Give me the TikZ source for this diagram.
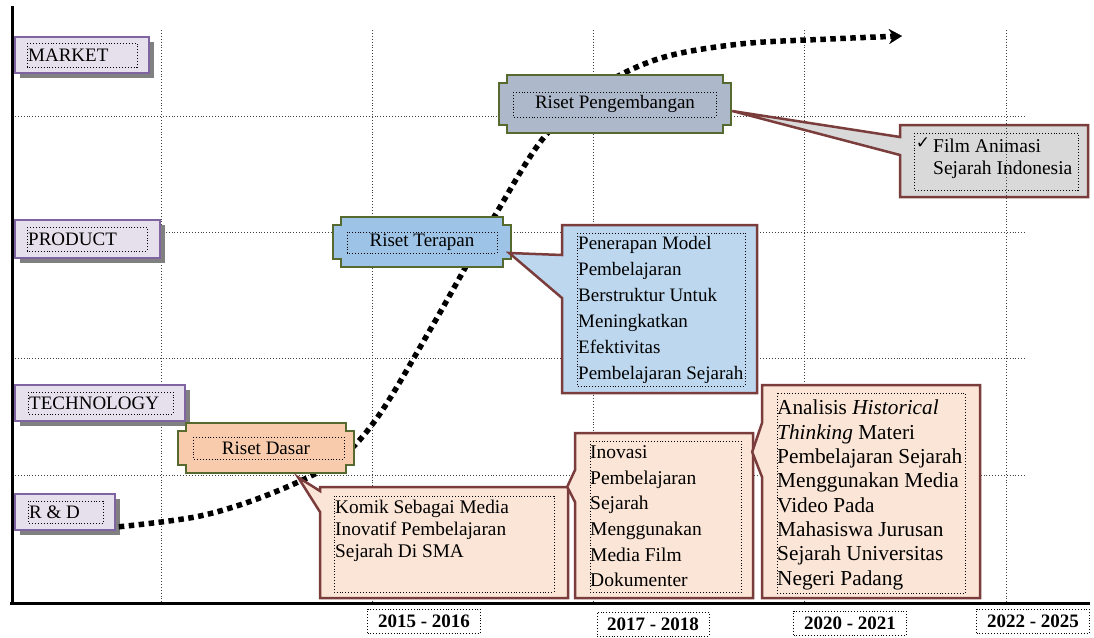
\documentclass[tikz,border=0pt]{standalone}
\usepackage{fontspec}
\setmainfont{Liberation Serif}
\newfontfamily\symfont{DejaVu Sans}
\usetikzlibrary{arrows.meta,calc,shadows}
\definecolor{lav}{HTML}{E6E0EC}
\definecolor{lavb}{HTML}{8064A2}
\definecolor{olivb}{HTML}{56692F}
\definecolor{pgfill}{HTML}{ADB9CA}
\definecolor{tfill}{HTML}{9DC3E6}
\definecolor{dfill}{HTML}{F8CBAD}
\definecolor{callb}{HTML}{7B3C3C}
\definecolor{gfill}{HTML}{D9D9D9}
\definecolor{bfill}{HTML}{BDD7EE}
\definecolor{pfill}{HTML}{FBE5D6}
\newcommand\myplaque[5]{\filldraw[plq, fill=#5] (#1+8,#2) -- (#3-8,#2) -- (#3-8,#2+8) -- (#3,#2+8) -- (#3,#4-8) -- (#3-8,#4-8) -- (#3-8,#4) -- (#1+8,#4) -- (#1+8,#4-8) -- (#1,#4-8) -- (#1,#2+8) -- (#1+8,#2+8) -- cycle;}
\tikzset{
 gridln/.style={dotted, line width=0.9pt, black!75},
 lbl/.style={draw=lavb, fill=lav, line width=1.6pt, inner sep=0pt, drop shadow={shadow xshift=5pt, shadow yshift=-5pt, fill=black!50, opacity=1}},
 innerbox/.style={dotted, line width=0.9pt, black},
 plq/.style={draw=olivb, line width=2.8pt},
 callout/.style={draw=callb, line width=2.5pt, line join=miter},
 txt/.style={inner sep=0pt, anchor=north west, align=left},
 lbltxt/.style={anchor=west, inner sep=0pt},
 yearbox/.style={draw, dotted, line width=0.9pt, font=\fontsize{19}{22}\selectfont\bfseries, minimum height=24pt, inner xsep=6pt},
 scurve/.style={line width=5.5pt, dash pattern=on 5.5pt off 4.5pt, -{Stealth[length=13pt,width=15pt,line width=0.1pt]}},
}
\begin{document}
\begin{tikzpicture}[x=1pt, y={(0pt,-1pt)}, font=\fontsize{19}{26}\selectfont]
\useasboundingbox (0,0) rectangle (1094,637);
\fill[white] (0,0) rectangle (1094,637);
% grid
\foreach \x in {161,372,593,804,1006} \draw[gridln] (\x,30) -- (\x,603);
\foreach \y in {116,232,358,475} \draw[gridln] (12,\y) -- (1025,\y);
% axes
\draw[line width=3pt] (12,6) -- (12,604);
\draw[line width=3pt] (10,603) -- (1090,603);
% left labels
\node[lbl, minimum width=134pt, minimum height=36pt] (market) at (82,55) {};
\draw[innerbox] (27,43) rectangle (137,67);
\node[lbltxt] (marketT) at (28,55.5) {MARKET};
\node[lbl, minimum width=145pt, minimum height=38pt] (product) at (87.5,239) {};
\draw[innerbox] (27,227) rectangle (147,251);
\node[lbltxt] (productT) at (28,239.5) {PRODUCT};
\node[lbl, minimum width=170pt, minimum height=36pt] (tech) at (100,403) {};
\draw[innerbox] (28,392) rectangle (173,414);
\node[lbltxt] (techT) at (29,403.5) {TECHNOLOGY};
\node[lbl, minimum width=100pt, minimum height=36pt] (rd) at (65,512) {};
\draw[innerbox] (28,501) rectangle (103,523);
\node[lbltxt] (rdT) at (29,512.5) {R \& D};
% S-curve
\coordinate (curveend) at (902,36);
\draw[scurve] plot[smooth, tension=0.55] coordinates {($(rd.south east)+(3,-4)$) (200,516) (270,494) (335,462) (377,418) (430,330) (497,212) (545,136) (600,87) (661,58) (740,44) (830,39) (curveend)};
% plaques
\myplaque{499}{75}{731}{133}{pgfill}
\draw[innerbox] (513,92) rectangle (716,117);
\node[minimum width=232pt, minimum height=58pt, inner sep=0pt] (rpeng) at (615,104) {Riset Pengembangan};
\myplaque{333}{217}{511}{267}{tfill}
\draw[innerbox] (347,232) rectangle (497,253);
\node[minimum width=178pt, minimum height=50pt, inner sep=0pt] (rter) at (422,242) {Riset Terapan};
\myplaque{178}{423}{354}{473}{dfill}
\draw[innerbox] (193,437) rectangle (344,459);
\node[minimum width=176pt, minimum height=50pt, inner sep=0pt] (rdas) at (266,448) {Riset Dasar};
% callout: Film
\coordinate (tipF) at ($(rpeng.east)+(1,7)$);
\filldraw[callout, fill=gfill] (900,125) -- (1088,125) -- (1088,197) -- (900,197) -- (900,155) -- (tipF) -- (900,137) -- cycle;
\draw[innerbox] (914,133) rectangle (1078,190);
\draw[gridln] (1006,125) -- (1006,197);
\node[inner sep=0pt, font=\fontsize{17}{17}\selectfont] (chk) at (923,143) {\symfont ✓};
\node[txt, font=\fontsize{19.5}{22}\selectfont] (filmT) at (933,138.5) {Film Animasi\\Sejarah Indonesia};
% callout: Penerapan
\coordinate (tipT) at ($(rter.east)+(-2,11)$);
\filldraw[callout, fill=bfill] (562,225) -- (757,225) -- (757,393) -- (562,393) -- (562,298) -- (tipT) -- (562,255) -- cycle;
\draw[innerbox] (577,233) rectangle (745,386);
\node[txt, font=\fontsize{19}{26}\selectfont] (terT) at (578,236.5) {Penerapan Model\\Pembelajaran\\Berstruktur Untuk\\Meningkatkan\\Efektivitas\\Pembelajaran Sejarah};
% callout: Komik
\coordinate (tipK) at ($(rdas.south)+(32,4)$);
\filldraw[callout, fill=pfill] (320,487) -- (568,487) -- (568,598) -- (320,598) -- (320,512) -- (tipK) -- (320,491) -- cycle;
\node[minimum width=248pt, minimum height=111pt, inner sep=0pt] (komikbox) at (444,542.5) {};
\draw[innerbox] (334,496) rectangle (554,592);
\node[txt, font=\fontsize{19.3}{22}\selectfont] (komikT) at (335,499.5) {Komik Sebagai Media\\Inovatif Pembelajaran\\Sejarah Di SMA};
% callout: Inovasi
\coordinate (tipI) at ($(komikbox.north east)+(-1,0)$);
\filldraw[callout, fill=pfill] (575,433) -- (753,433) -- (753,598) -- (575,598) -- (575,502) -- (tipI) -- (575,470) -- cycle;
\node[minimum width=178pt, minimum height=165pt, inner sep=0pt] (inovbox) at (664,515.5) {};
\draw[innerbox] (590,441) rectangle (741,592);
\node[txt, font=\fontsize{19.5}{25.6}\selectfont] (inovT) at (590,445.5) {Inovasi\\Pembelajaran\\Sejarah\\Menggunakan\\Media Film\\Dokumenter};
% callout: Analisis
\coordinate (tipA) at ($(inovbox.east)+(-1,-63.5)$);
\filldraw[callout, fill=pfill] (762,385) -- (980,385) -- (980,598) -- (762,598) -- (762,477) -- (tipA) -- (762,423) -- cycle;
\draw[innerbox] (777,393) rectangle (965,593);
\node[txt, font=\fontsize{21.3}{24.3}\selectfont] (anT) at (777,400) {Analisis \textit{Historical}\\\textit{Thinking} Materi\\Pembelajaran Sejarah\\Menggunakan Media\\Video Pada\\Mahasiswa Jurusan\\Sejarah Universitas\\Negeri Padang};
% years
\node[yearbox, minimum width=113pt] (y1) at (424,621) {2015 - 2016};
\node[yearbox, minimum width=112pt] (y2) at (653,624) {2017 - 2018};
\node[yearbox, minimum width=113pt] (y3) at (850,623) {2020 - 2021};
\node[yearbox, minimum width=113pt] (y4) at (1033,621) {2022 - 2025};
\end{tikzpicture}
\end{document}
